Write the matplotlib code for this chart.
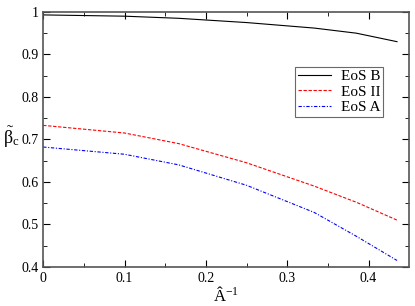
import matplotlib.pyplot as plt

plt.rcParams['font.family'] = 'Liberation Serif'
plt.rcParams['mathtext.fontset'] = 'stix'
plt.rcParams['mathtext.default'] = 'regular'

# inverse cutoff values and critical beta for each EoS
x = [0.0, 0.1, 0.1667, 0.25, 0.3333, 0.385, 0.435]
eos_b = [0.993, 0.990, 0.985, 0.975, 0.962, 0.950, 0.930]
eos_ii = [0.733, 0.715, 0.690, 0.645, 0.590, 0.552, 0.510]
eos_a = [0.682, 0.665, 0.640, 0.592, 0.528, 0.472, 0.415]

fig = plt.figure(figsize=(4.15, 3.06), dpi=100)
ax = fig.add_axes([0.104, 0.128, 0.882, 0.833])

ax.plot(x, eos_b, color='black', lw=0.8, label='EoS B')
ax.plot(x, eos_ii, color='red', lw=0.8, ls='--', dashes=(3, 1.5), label='EoS II')
ax.plot(x, eos_a, color='blue', lw=0.8, ls='-.', dashes=(3, 1.5, 1, 1.5), label='EoS A')

ax.set_xlim(0, 0.45)
ax.set_ylim(0.4, 1.0)
ax.set_xticks([0, 0.1, 0.2, 0.3, 0.4])
ax.set_xticklabels(['0', '0.1', '0.2', '0.3', '0.4'])
ax.set_yticks([0.4, 0.5, 0.6, 0.7, 0.8, 0.9, 1.0])
ax.set_yticklabels(['0.4', '0.5', '0.6', '0.7', '0.8', '0.9', '1'])
ax.set_xticks([0.05, 0.15, 0.25, 0.35], minor=True)
ax.set_yticks([0.45, 0.55, 0.65, 0.75, 0.85, 0.95], minor=True)
ax.tick_params(which='both', direction='in', top=True, right=True, labelsize=10)
ax.tick_params(which='major', length=5)
ax.tick_params(which='minor', length=3)
for s in ax.spines.values():
    s.set_color('#555555')
    s.set_linewidth(1.2)

ax.set_xlabel('Â$^{-1}$', fontsize=12, labelpad=1)
ax.set_ylabel(r'$\tilde{\beta}_c$', fontsize=13, rotation=0)
ax.yaxis.set_label_coords(-0.088, 0.46)

leg = ax.legend(loc='upper right', bbox_to_anchor=(0.95, 0.815), fontsize=11,
                fancybox=False, edgecolor='#444444', handlelength=2.2,
                borderpad=0.2, labelspacing=0.1, handletextpad=0.6)
leg.get_frame().set_linewidth(0.8)

fig.savefig('out.png', dpi=100)
